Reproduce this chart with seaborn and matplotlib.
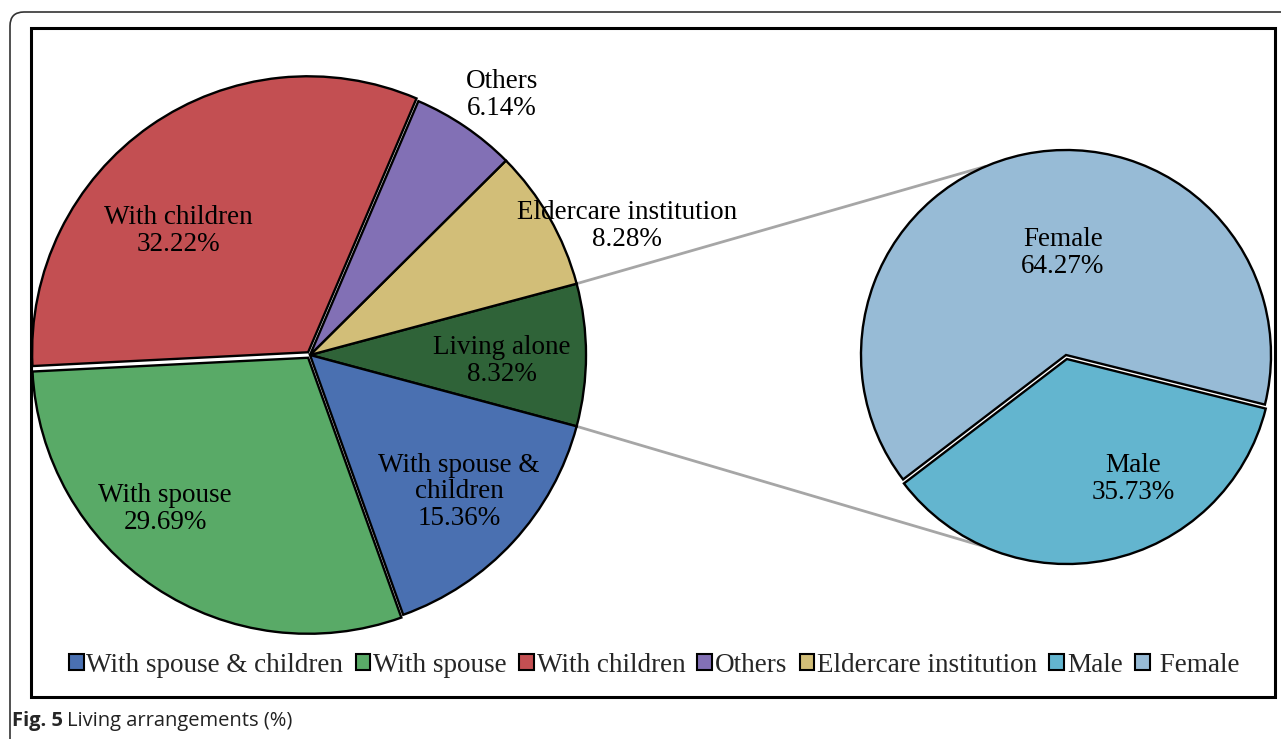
import numpy as np
import matplotlib
matplotlib.use("Agg")
import matplotlib.pyplot as plt
from matplotlib.patches import FancyBboxPatch, Rectangle, Patch
import seaborn as sns

# Living arrangements (%), main pie
main_labels = ["Living alone", "Eldercare institution", "Others",
               "With children", "With spouse", "With spouse &\nchildren"]
main_values = [8.32, 8.28, 6.14, 32.22, 29.69, 15.36]
main_colors = ["#2F6338", "#D2BE78", "#8270B5", "#C34F52", "#59AA67", "#4A70B1"]
main_explode = [0.0, 0.0, 0.0, 0.012, 0.012, 0.0]

# Breakdown of "Living alone" by sex
sub_labels = ["Male", "Female"]
sub_values = [35.73, 64.27]
sub_colors = ["#63B5CF", "#97BBD6"]
sub_explode = [0.02, 0.0]

legend_labels = ["With spouse & children", "With spouse", "With children", "Others",
                 "Eldercare institution", "Male", " Female"]
legend_colors = ["#4A70B1", "#59AA67", "#C34F52", "#8270B5", "#D2BE78", "#63B5CF", "#97BBD6"]

sns.set_theme(style="white")
plt.rcParams["font.family"] = ["Liberation Serif", "DejaVu Serif"]

W, H = 1281, 739
fig = plt.figure(figsize=(W / 100, H / 100), dpi=100)
ax = fig.add_axes([0, 0, 1, 1])

def py(y):
    # pixel row (from top) -> axes y
    return H - y

main_c = (310, py(355))
main_r = 276
sub_c = (1066, py(355))
sub_r = 205

wedge_kw = dict(edgecolor="black", linewidth=1.7)
# explode offsets are in data units, so scale the fractions by the radius
start_main = -main_values[0] * 3.6 / 2
ax.pie(main_values, colors=main_colors, explode=[e * main_r for e in main_explode],
       startangle=start_main, counterclock=True, center=main_c, radius=main_r,
       wedgeprops=wedge_kw, frame=True)
start_sub = -14.0 - sub_values[0] * 3.6
ax.pie(sub_values, colors=sub_colors, explode=[e * sub_r for e in sub_explode],
       startangle=start_sub, counterclock=True, center=sub_c, radius=sub_r,
       wedgeprops=wedge_kw, frame=True)

# connector lines between the "Living alone" wedge and the breakdown pie
half = np.deg2rad(main_values[0] * 3.6 / 2)
male_mid = np.deg2rad(start_sub + sub_values[0] * 3.6 / 2)
male_shift = sub_explode[0] * sub_r
for s, a_end, shift in ((1, 113, 0.0), (-1, -114, male_shift)):
    x0 = main_c[0] + main_r * np.cos(s * half)
    y0 = main_c[1] + main_r * np.sin(s * half)
    a1 = np.deg2rad(a_end)
    cx = sub_c[0] + shift * np.cos(male_mid)
    cy = sub_c[1] + shift * np.sin(male_mid)
    x1 = cx + sub_r * np.cos(a1)
    y1 = cy + sub_r * np.sin(a1)
    ax.plot([x0, x1], [y0, y1], color="#A6A6A6", lw=2, zorder=0.5)

# wedge labels
fs = 19.5
main_pos = [(502, 361), (627, 226), (502, 95), (178, 231), (165, 509), (459, 492)]
for lab, val, (x, y) in zip(main_labels, main_values, main_pos):
    ax.text(x, py(y), f"{lab}\n{val:.2f}%", ha="center", va="center", fontsize=fs,
            linespacing=1.1, color="black")
sub_pos = [(1133, 479), (1063, 253)]
for lab, val, (x, y) in zip(sub_labels, sub_values, sub_pos):
    ax.text(x, py(y), f"{lab}\n{val:.2f}%", ha="center", va="center", fontsize=fs,
            linespacing=1.1, color="black")

# chart border and page frame
ax.add_patch(Rectangle((31, py(697)), 1244, 669, fill=False, edgecolor="black", lw=2.2))
ax.add_patch(FancyBboxPatch((10, -30), 1320, py(12) + 30, boxstyle="round,pad=0,rounding_size=14",
                            fill=False, edgecolor="#333333", lw=1.2))

handles = [Patch(facecolor=c, edgecolor="black", linewidth=1.5) for c in legend_colors]
ax.legend(handles, legend_labels, loc="center", bbox_to_anchor=(654 / W, 1 - 665 / H),
          ncol=7, frameon=False, fontsize=19.5, handlelength=0.55, handleheight=0.55,
          handletextpad=0.1, columnspacing=0.45, borderaxespad=0)

fig.text(12 / W, 1 - 721 / H, "Fig. 5", fontsize=14.5, fontweight="bold",
         family=["Open Sans", "DejaVu Sans"], ha="left", va="center")
fig.text(67 / W, 1 - 721 / H, "Living arrangements (%)", fontsize=14.5,
         family=["Open Sans", "DejaVu Sans"], ha="left", va="center", color="#222222")

ax.set_xlim(0, W)
ax.set_ylim(0, H)
ax.set_aspect("equal")
ax.axis("off")
fig.savefig("out.png", dpi=100)
